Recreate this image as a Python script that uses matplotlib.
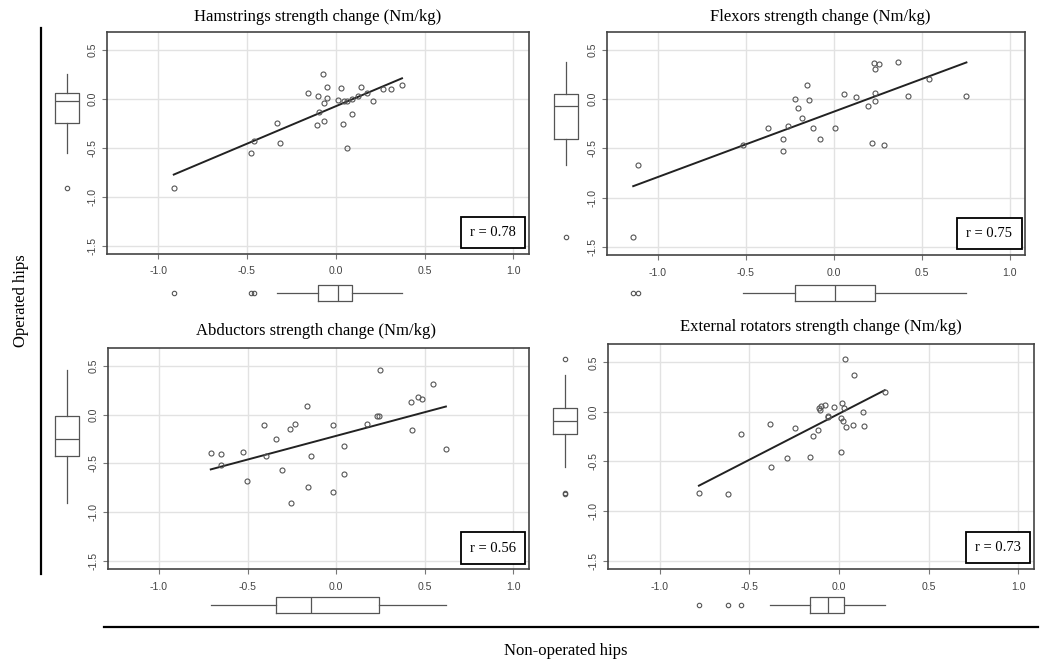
import numpy as np
import matplotlib
matplotlib.use("Agg")
import matplotlib.pyplot as plt

plt.rcParams['axes.unicode_minus'] = False

# ---------------- data (strength change, Nm/kg) ----------------
titles = [
    "Hamstrings strength change (Nm/kg)",
    "Flexors strength change (Nm/kg)",
    "Abductors strength change (Nm/kg)",
    "External rotators strength change (Nm/kg)",
]
r_values = [0.78, 0.75, 0.56, 0.73]

# non-operated hips (x) / operated hips (y)
ham_x = [-0.912, -0.478, -0.463, -0.333, -0.316, -0.159, -0.099, -0.107, -0.092, -0.071,
         -0.067, -0.064, -0.051, -0.051, 0.011, 0.028, 0.039, 0.049, 0.062, 0.062,
         0.094, 0.094, 0.127, 0.140, 0.176, 0.210, 0.268, 0.311, 0.373]
ham_y = [-0.911, -0.553, -0.433, -0.242, -0.454, 0.058, 0.027, -0.270, -0.133, 0.256,
         -0.229, -0.038, 0.123, 0.007, -0.010, 0.113, -0.259, -0.024, -0.024, -0.502,
         -0.150, 0.003, 0.034, 0.126, 0.065, -0.020, 0.102, 0.099, 0.143]

flex_x = [-1.139, -1.113, -0.515, -0.372, -0.285, -0.285, -0.260, -0.221, -0.203, -0.180,
          -0.149, -0.140, -0.115, -0.080, 0.006, 0.058, 0.125, 0.193, 0.220, 0.229,
          0.236, 0.257, 0.238, 0.238, 0.288, 0.367, 0.422, 0.540, 0.755]
flex_y = [-1.403, -0.668, -0.464, -0.288, -0.400, -0.525, -0.268, 0.003, -0.092, -0.193,
          0.149, -0.010, -0.288, -0.400, -0.288, 0.058, 0.020, -0.068, -0.447, 0.373,
          0.312, 0.356, 0.068, -0.017, -0.461, 0.380, 0.037, 0.210, 0.037]

abd_x = [-0.708, -0.649, -0.649, -0.526, -0.506, -0.409, -0.396, -0.342, -0.308, -0.260,
         -0.253, -0.232, -0.166, -0.162, -0.140, -0.017, -0.017, 0.042, 0.043, 0.174,
         0.230, 0.240, 0.247, 0.423, 0.430, 0.464, 0.483, 0.547, 0.619]
abd_y = [-0.390, -0.408, -0.514, -0.387, -0.685, -0.106, -0.425, -0.250, -0.565, -0.147,
         -0.908, -0.096, 0.086, -0.740, -0.421, -0.103, -0.798, -0.325, -0.610, -0.099,
         -0.010, -0.010, 0.459, 0.127, -0.161, 0.178, 0.161, 0.312, -0.349]

er_x = [-0.781, -0.621, -0.545, -0.387, -0.378, -0.292, -0.247, -0.162, -0.145, -0.119,
        -0.112, -0.104, -0.099, -0.080, -0.063, -0.060, -0.026, 0.009, 0.013, 0.019,
        0.022, 0.028, 0.032, 0.037, 0.078, 0.086, 0.132, 0.138, 0.255]
er_y = [-0.814, -0.831, -0.220, -0.118, -0.557, -0.470, -0.162, -0.459, -0.240, -0.179,
        0.034, 0.014, 0.061, 0.074, -0.041, -0.051, 0.044, -0.409, -0.061, 0.088,
        -0.091, 0.037, 0.530, -0.155, -0.132, 0.372, 0.000, -0.145, 0.203]

datasets = [(ham_x, ham_y), (flex_x, flex_y), (abd_x, abd_y), (er_x, er_y)]

x_ticks = [-1.0, -0.5, 0.0, 0.5, 1.0]
y_ticks = [-1.5, -1.0, -0.5, 0.0, 0.5]

# ---------------- layout (pixel geometry) ----------------
W, H = 1041, 661
fig = plt.figure(figsize=(W / 100, H / 100), dpi=100)


def px_axes(l, t, r, b):
    return fig.add_axes([l / W, 1 - b / H, (r - l) / W, (b - t) / H])


def padded(lo, hi, f=0.04):
    d = (hi - lo) * f
    return lo - d, hi + d


XLIM = padded(-1.2, 1.0)
YLIM = padded(-1.5, 0.6)

# scatter axes boxes: left, top, right, bottom
scatter_boxes = [
    (107, 32, 529, 254),
    (607, 32, 1025, 255),
    (108, 348, 529, 569),
    (608, 344, 1034, 569),
]
left_box_cx = [67, 566, 67, 565]
bottom_box_cy = [293, 293, 605, 605]
title_pos = [(318, 17), (820, 17), (316, 331), (821, 327)]

serif = "Liberation Serif"
sans = "Liberation Sans"
edge_grey = "#555555"

for i, ((xs, ys), (l, t, r, b)) in enumerate(zip(datasets, scatter_boxes)):
    xs = np.asarray(xs)
    ys = np.asarray(ys)

    ax = px_axes(l, t, r, b)
    ax.set_xlim(*XLIM)
    ax.set_ylim(*YLIM)
    ax.set_xticks(x_ticks)
    ax.set_yticks(y_ticks)
    ax.set_xticklabels([f"{v:.1f}" for v in x_ticks])
    ax.set_yticklabels([f"{v:.1f}" for v in y_ticks], rotation=90, va="center")
    ax.grid(True, color="#e2e2e2", lw=1.0)
    ax.set_axisbelow(True)
    for sp in ax.spines.values():
        sp.set_color("#444444")
        sp.set_linewidth(1.2)
    ax.tick_params(axis="both", length=3.5, width=0.8, color="#777777",
                   labelsize=7.6, labelcolor="#444444")
    ax.tick_params(axis="x", pad=5.5)
    ax.tick_params(axis="y", pad=3.5)
    for lab in ax.get_xticklabels() + ax.get_yticklabels():
        lab.set_fontfamily(sans)

    # least-squares line over the data range
    slope, intercept = np.polyfit(xs, ys, 1)
    xl = np.array([xs.min(), xs.max()])
    ax.plot(xl, slope * xl + intercept, color="#222222", lw=1.4, zorder=3)

    ax.plot(xs, ys, "o", ms=3.6, mfc="none", mec=edge_grey, mew=0.8, zorder=4)

    ax.text(0.915, 0.095, f"r = {r_values[i]:.2f}", transform=ax.transAxes,
            ha="center", va="center", fontsize=10.5, family=serif,
            bbox=dict(boxstyle="square,pad=0.62", fc="white", ec="black", lw=1.3),
            zorder=5)

    tx, ty = title_pos[i]
    fig.text(tx / W, 1 - ty / H, titles[i], ha="center", va="center",
             fontsize=12, family=serif)

    # marginal boxplot: operated hips
    cx = left_box_cx[i]
    axl = px_axes(cx - 15, t, cx + 15, b)
    axl.boxplot(ys, positions=[0], widths=1.6, whis=1.5,
                boxprops=dict(color=edge_grey, lw=0.9),
                whiskerprops=dict(color=edge_grey, lw=0.9, ls="-"),
                capprops=dict(lw=0),
                medianprops=dict(color=edge_grey, lw=0.9),
                flierprops=dict(marker="o", ms=3.2, mfc="none", mec=edge_grey, mew=0.8))
    axl.set_xlim(-1, 1)
    axl.set_ylim(*YLIM)
    axl.axis("off")

    # marginal boxplot: non-operated hips
    cy = bottom_box_cy[i]
    axb = px_axes(l, cy - 12, r, cy + 12)
    axb.boxplot(xs, positions=[0], widths=1.33, whis=1.5, vert=False,
                boxprops=dict(color=edge_grey, lw=0.9),
                whiskerprops=dict(color=edge_grey, lw=0.9, ls="-"),
                capprops=dict(lw=0),
                medianprops=dict(color=edge_grey, lw=0.9),
                flierprops=dict(marker="o", ms=3.2, mfc="none", mec=edge_grey, mew=0.8))
    axb.set_xlim(*XLIM)
    axb.set_ylim(-1, 1)
    axb.axis("off")

# outer axis lines and labels
fig.add_artist(plt.Line2D([41 / W, 41 / W], [1 - 28 / H, 1 - 574 / H],
                          color="black", lw=1.6))
fig.add_artist(plt.Line2D([104 / W, 1038 / W], [1 - 626.5 / H, 1 - 626.5 / H],
                          color="black", lw=1.6))
fig.text(21 / W, 1 - 301 / H, "Operated hips", rotation=90, ha="center", va="center",
         fontsize=12, family=serif)
fig.text(566 / W, 1 - 651 / H, "Non-operated hips", ha="center", va="center",
         fontsize=12, family=serif)

fig.savefig("out.png", dpi=100)
